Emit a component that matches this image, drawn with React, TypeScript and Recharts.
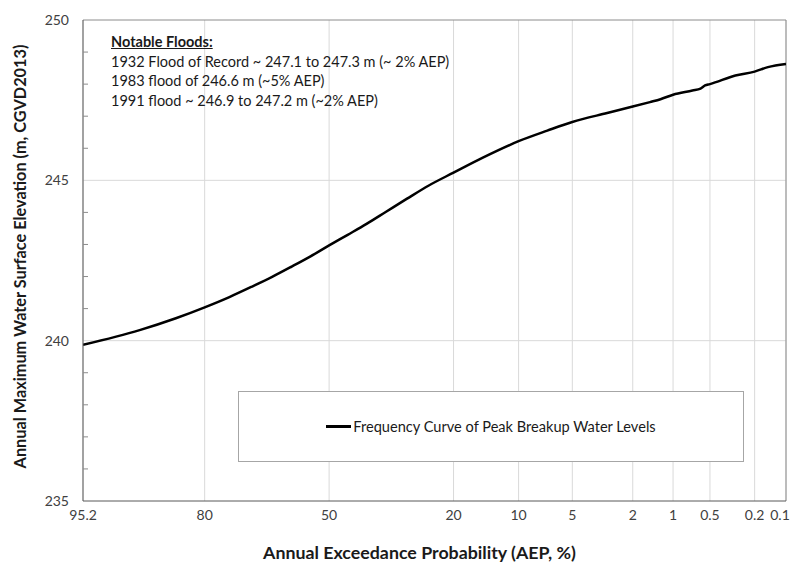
import { LineChart, Line, XAxis, YAxis, CartesianGrid, Legend, ReferenceLine } from 'recharts';

// AEP (%) along the curve and matching water level (m)
const AEP = [95.2, 90, 85, 80, 75, 70, 65, 60, 55, 50, 45, 40, 35, 30, 25, 20, 15, 10, 7, 5, 3, 2, 1.5, 1.25, 1, 0.7, 0.6, 0.55, 0.5, 0.3, 0.2, 0.15, 0.1];
const ELEVATION = [239.87, 240.33, 240.7, 241.04, 241.36, 241.68, 241.99, 242.31, 242.63, 242.97, 243.3, 243.64, 244.02, 244.42, 244.84, 245.24, 245.7, 246.22, 246.55, 246.82, 247.1, 247.3, 247.44, 247.53, 247.67, 247.8, 247.86, 247.96, 248.0, 248.27, 248.39, 248.53, 248.63];

const X_TICKS = [95.2, 80, 50, 20, 10, 5, 2, 1, 0.5, 0.2, 0.1];
const Y_TICKS = [235, 236, 237, 238, 239, 240, 241, 242, 243, 244, 245, 246, 247, 248, 249, 250];

const NOTES = [
    '1932 Flood of Record ~ 247.1 to 247.3 m (~ 2% AEP)',
    '1983 flood of 246.6 m (~5% AEP)',
    '1991 flood ~ 246.9 to 247.2 m (~2% AEP)',
];

const FONT = 'Lato, "Noto Sans", sans-serif';

// inverse standard normal (Acklam) - used for the probability axis
function normInv(p: number): number {
    const a = [-39.69683028665376, 220.9460984245205, -275.9285104469687, 138.357751867269, -30.66479806614716, 2.506628277459239];
    const b = [-54.47609879822406, 161.5858368580409, -155.6989798598866, 66.80131188771972, -13.28068155288572];
    const c = [-0.007784894002430293, -0.3223964580411365, -2.400758277161838, -2.549732539343734, 4.374664141464968, 2.938163982698783];
    const d = [0.007784695709041462, 0.3224671290700398, 2.445134137142996, 3.754408661907416];
    const pl = 0.02425;
    if (p < pl) {
        const q = Math.sqrt(-2 * Math.log(p));
        return (((((c[0] * q + c[1]) * q + c[2]) * q + c[3]) * q + c[4]) * q + c[5]) / ((((d[0] * q + d[1]) * q + d[2]) * q + d[3]) * q + 1);
    }
    if (p > 1 - pl) {
        const q = Math.sqrt(-2 * Math.log(1 - p));
        return -(((((c[0] * q + c[1]) * q + c[2]) * q + c[3]) * q + c[4]) * q + c[5]) / ((((d[0] * q + d[1]) * q + d[2]) * q + d[3]) * q + 1);
    }
    const q = p - 0.5;
    const r = q * q;
    return ((((((a[0] * r + a[1]) * r + a[2]) * r + a[3]) * r + a[4]) * r + a[5]) * q) / (((((b[0] * r + b[1]) * r + b[2]) * r + b[3]) * r + b[4]) * r + 1);
}

const toZ = (aep: number) => normInv(1 - aep / 100);

const data = AEP.map((p, i) => ({ z: toZ(p), elev: ELEVATION[i] }));
const xTickValues = X_TICKS.map(toZ);
const zMin = toZ(X_TICKS[0]);
const zMax = toZ(X_TICKS[X_TICKS.length - 1]);

function XTick(props: any) {
    const { x, y, payload, index } = props;
    const i = xTickValues.findIndex((t) => Math.abs(t - payload.value) < 1e-6);
    const last = index === X_TICKS.length - 1;
    return (
        <text x={x} y={y} dy={11} dx={last ? -6 : 0} textAnchor="middle" fill="#404040" fontSize={14} fontFamily={FONT}>
            {i >= 0 ? String(X_TICKS[i]) : ''}
        </text>
    );
}

function YTick(props: any) {
    const { x, y, payload } = props;
    const v = payload.value;
    if (v % 5 === 0) {
        return (
            <text x={x} y={y} dy={5} textAnchor="end" fill="#404040" fontSize={14} fontFamily={FONT}>
                {v}
            </text>
        );
    }
    // small inside tick mark
    return <line x1={x + 14} x2={x + 19} y1={y} y2={y} stroke="#8c8c8c" />;
}

function LegendBox() {
    return (
        <div
            style={{
                width: '100%',
                height: '100%',
                boxSizing: 'border-box',
                border: '1px solid #a6a6a6',
                background: '#fff',
                display: 'flex',
                alignItems: 'center',
                justifyContent: 'center',
                fontFamily: FONT,
                fontSize: 14.6,
                color: '#1a1a1a',
            }}
        >
            <span style={{ display: 'inline-block', width: 25, height: 3, background: '#000', marginRight: 2 }} />
            Frequency Curve of Peak Breakup Water Levels
        </div>
    );
}

export default function App() {
    return (
        <div style={{ position: 'absolute', left: 0, top: 0, width: 793, height: 565, background: '#fff' }}>
            <LineChart width={793} height={565} data={data} margin={{ top: 20, right: 7, left: 0, bottom: 0 }}>
                <CartesianGrid stroke="#d9d9d9" verticalValues={xTickValues} horizontalValues={[240, 245]} />
                <XAxis
                    type="number"
                    dataKey="z"
                    domain={[zMin, zMax]}
                    ticks={xTickValues}
                    interval={0}
                    allowDataOverflow
                    height={64}
                    stroke="#595959"
                    tickLine={false}
                    tickSize={0}
                    tickMargin={8}
                    tick={<XTick />}
                    label={{
                        value: 'Annual Exceedance Probability (AEP, %)',
                        position: 'insideBottom',
                        offset: 6,
                        dx: -15,
                        style: { fontFamily: FONT, fontSize: 17.8, fontWeight: 700, fill: '#1a1a1a' },
                    }}
                />
                <YAxis
                    type="number"
                    domain={[235, 250]}
                    ticks={Y_TICKS}
                    interval={0}
                    width={83}
                    stroke="#595959"
                    tickLine={false}
                    tickSize={0}
                    tickMargin={14}
                    tick={<YTick />}
                    label={{
                        value: 'Annual Maximum Water Surface Elevation (m, CGVD2013)',
                        angle: -90,
                        position: 'insideLeft',
                        offset: 20,
                        dy: -4,
                        style: { textAnchor: 'middle', fontFamily: FONT, fontSize: 16.3, fontWeight: 700, fill: '#1a1a1a' },
                    }}
                />
                <ReferenceLine y={250} stroke="#8c8c8c" />
                <ReferenceLine x={zMax} stroke="#8c8c8c" />
                <Legend
                    layout="horizontal"
                    verticalAlign="middle"
                    align="center"
                    content={<LegendBox />}
                    wrapperStyle={{ left: 238, top: 391, width: 506, height: 71 }}
                />
                <Line
                    type="monotone"
                    dataKey="elev"
                    stroke="#000"
                    strokeWidth={2.5}
                    dot={false}
                    isAnimationActive={false}
                    name="Frequency Curve of Peak Breakup Water Levels"
                />
            </LineChart>
            <div
                style={{
                    position: 'absolute',
                    left: 111,
                    top: 32,
                    fontFamily: FONT,
                    fontSize: 14.5,
                    lineHeight: '19.7px',
                    color: '#1a1a1a',
                    whiteSpace: 'nowrap',
                }}
            >
                <div style={{ fontWeight: 700, textDecoration: 'underline' }}>Notable Floods:</div>
                {NOTES.map((n) => (
                    <div key={n}>{n}</div>
                ))}
            </div>
        </div>
    );
}
